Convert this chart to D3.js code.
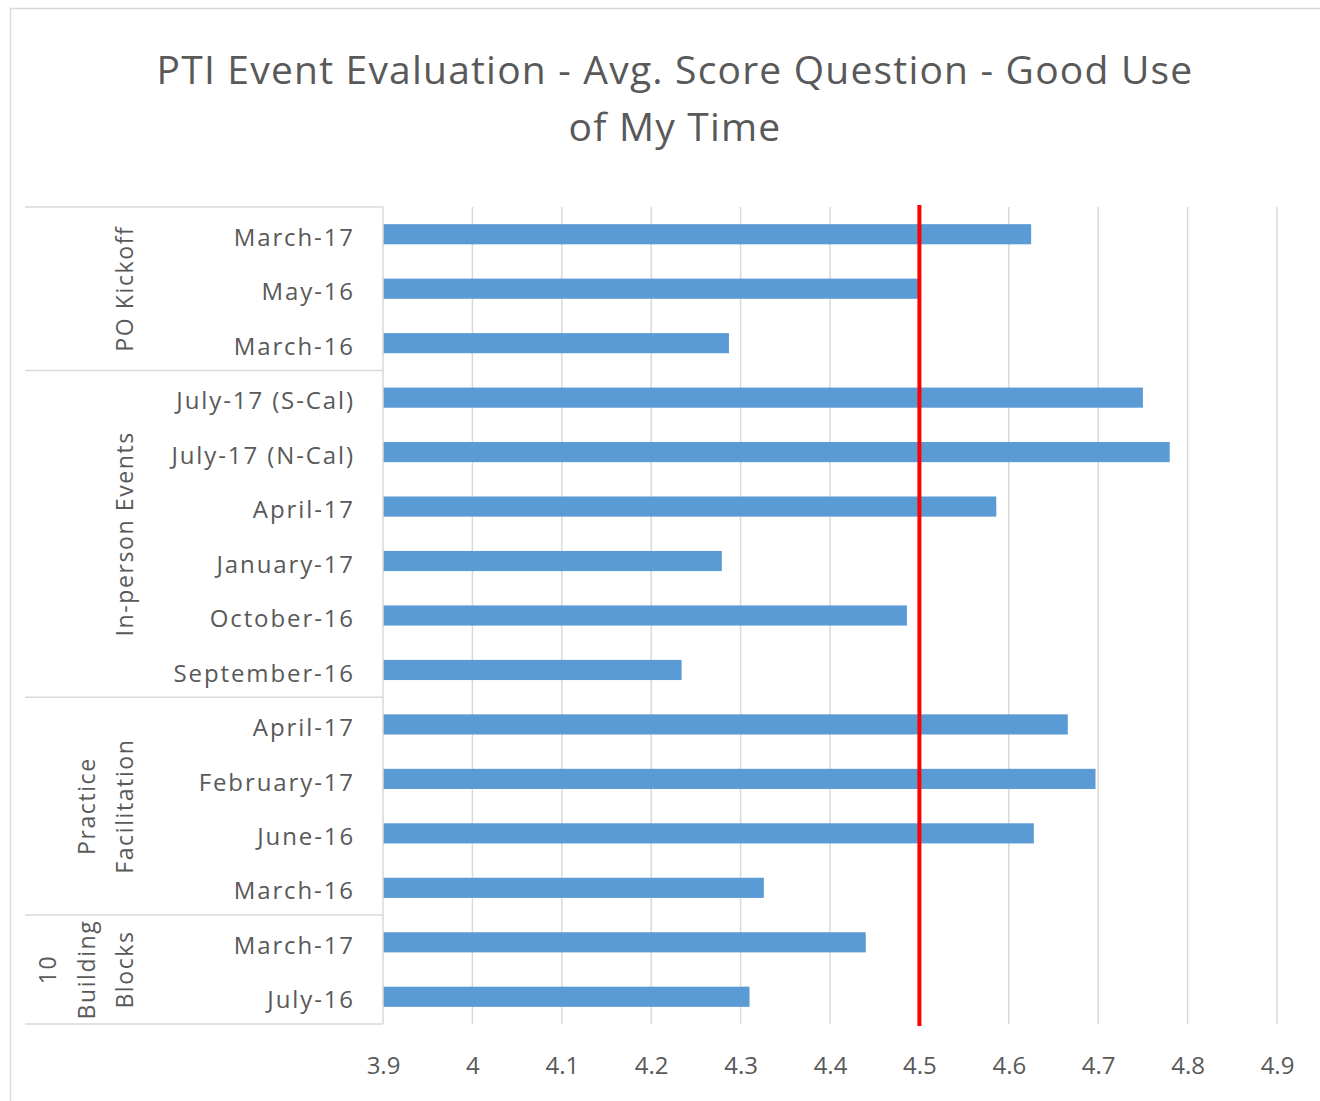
<!DOCTYPE html>
<html>
<head>
<meta charset="utf-8">
<script src="https://cdn.jsdelivr.net/npm/d3@7"></script>
<style>
  html, body { margin: 0; padding: 0; background: #fff; }
  svg text { font-family: "Open Sans", Lato, sans-serif; fill: #595959; }
</style>
</head>
<body>
<div id="chart"></div>
<script>
// PTI event evaluation - average "good use of my time" score per event

var categories = [
  'March-17', 'May-16', 'March-16',
  'July-17 (S-Cal)', 'July-17 (N-Cal)', 'April-17', 'January-17', 'October-16', 'September-16',
  'April-17', 'February-17', 'June-16', 'March-16',
  'March-17', 'July-16'
];
var scores = [
  4.625, 4.5, 4.287,
  4.75, 4.78, 4.586, 4.279, 4.486, 4.234,
  4.666, 4.697, 4.628, 4.326,
  4.44, 4.31
];
// group name lines, and how many rows each group covers
var groupLabels = [
  ['PO Kickoff'],
  ['In-person Events'],
  ['Practice', 'Facilitation'],
  ['10', 'Building', 'Blocks']
];
var groupSizes = [3, 6, 4, 2];
var xTicks = [3.9, 4, 4.1, 4.2, 4.3, 4.4, 4.5, 4.6, 4.7, 4.8, 4.9];
var targetScore = 4.5;
var titleLines = ['PTI Event Evaluation - Avg. Score Question - Good Use', 'of My Time'];

var W = 1320, H = 1101;
var plot = { left: 383, right: 1277, top: 207, bottom: 1024 };
var tableLeft = 25;

var svg = d3.select('#chart').append('svg')
  .attr('width', W).attr('height', H);

// outer chart frame
svg.append('rect')
  .attr('x', 10.5).attr('y', 8.5)
  .attr('width', W + 20).attr('height', H + 20)
  .attr('fill', '#fff').attr('stroke', '#d9d9d9').attr('stroke-width', 1.5);

// title
svg.append('text')
  .attr('text-anchor', 'middle')
  .style('font-size', '39px')
  .style('letter-spacing', '1.2px')
  .selectAll('tspan')
  .data(titleLines)
  .join('tspan')
  .attr('x', 675)
  .attr('y', function (d, i) { return 84 + i * 57; })
  .text(function (d) { return d; });

var x = d3.scaleLinear().domain([3.9, 4.9]).range([plot.left, plot.right]);
var y = d3.scaleBand()
  .domain(d3.range(categories.length))
  .range([plot.top, plot.bottom])
  .paddingInner(0.63).paddingOuter(0.315);

// vertical gridlines
svg.append('g')
  .selectAll('line')
  .data(xTicks.slice(1))
  .join('line')
  .attr('x1', function (d) { return x(d); })
  .attr('x2', function (d) { return x(d); })
  .attr('y1', plot.top)
  .attr('y2', plot.bottom)
  .attr('stroke', '#d9d9d9')
  .attr('stroke-width', 1.5);

// x tick labels
var xAxis = svg.append('g')
  .attr('transform', 'translate(0,' + plot.bottom + ')')
  .call(d3.axisBottom(x).tickValues(xTicks).tickSize(0).tickPadding(33)
    .tickFormat(function (d) { return String(d); }));
xAxis.select('.domain').remove();
xAxis.selectAll('text')
  .style('font-size', '24px')
  .style('font-family', '"Open Sans", Lato, sans-serif')
  .attr('fill', '#595959');

// bars
svg.append('g')
  .selectAll('rect')
  .data(scores)
  .join('rect')
  .attr('x', x(3.9))
  .attr('y', function (d, i) { return y(i); })
  .attr('width', function (d) { return x(d) - x(3.9); })
  .attr('height', y.bandwidth())
  .attr('fill', '#5b9bd5');

// target line at 4.5
svg.append('line')
  .attr('x1', x(targetScore)).attr('x2', x(targetScore))
  .attr('y1', plot.top - 2).attr('y2', plot.bottom + 2)
  .attr('stroke', '#ff0000')
  .attr('stroke-width', 4);

// category labels
svg.append('g')
  .selectAll('text')
  .data(categories)
  .join('text')
  .attr('x', 355)
  .attr('y', function (d, i) { return y(i) + y.bandwidth() / 2 + 3; })
  .attr('dy', '0.36em')
  .attr('text-anchor', 'end')
  .style('font-size', '24px')
  .style('letter-spacing', '1.9px')
  .text(function (d) { return d; });

// group table lines
var rowH = (plot.bottom - plot.top) / categories.length;
var bounds = [0];
groupSizes.forEach(function (n, i) { bounds.push(bounds[i] + n); });

svg.append('g')
  .selectAll('line')
  .data(bounds)
  .join('line')
  .attr('x1', tableLeft)
  .attr('x2', plot.left)
  .attr('y1', function (d) { return plot.top + d * rowH; })
  .attr('y2', function (d) { return plot.top + d * rowH; })
  .attr('stroke', '#d9d9d9')
  .attr('stroke-width', 1.5);

svg.append('line')
  .attr('x1', plot.left).attr('x2', plot.left)
  .attr('y1', plot.top).attr('y2', plot.bottom)
  .attr('stroke', '#d9d9d9')
  .attr('stroke-width', 1.5);

// rotated group names; last line sits nearest the category labels
groupLabels.forEach(function (lines, gi) {
  var cy = plot.top + (bounds[gi] + groupSizes[gi] / 2) * rowH;
  lines.forEach(function (ln, li) {
    var cx = 125 - (lines.length - 1 - li) * 38.5;
    svg.append('text')
      .attr('transform', 'translate(' + cx + ',' + cy + ') rotate(-90)')
      .attr('text-anchor', 'middle')
      .attr('dy', '0.36em')
      .style('font-size', '23px')
      .style('letter-spacing', '1.6px')
      .text(ln);
  });
});
</script>
</body>
</html>
